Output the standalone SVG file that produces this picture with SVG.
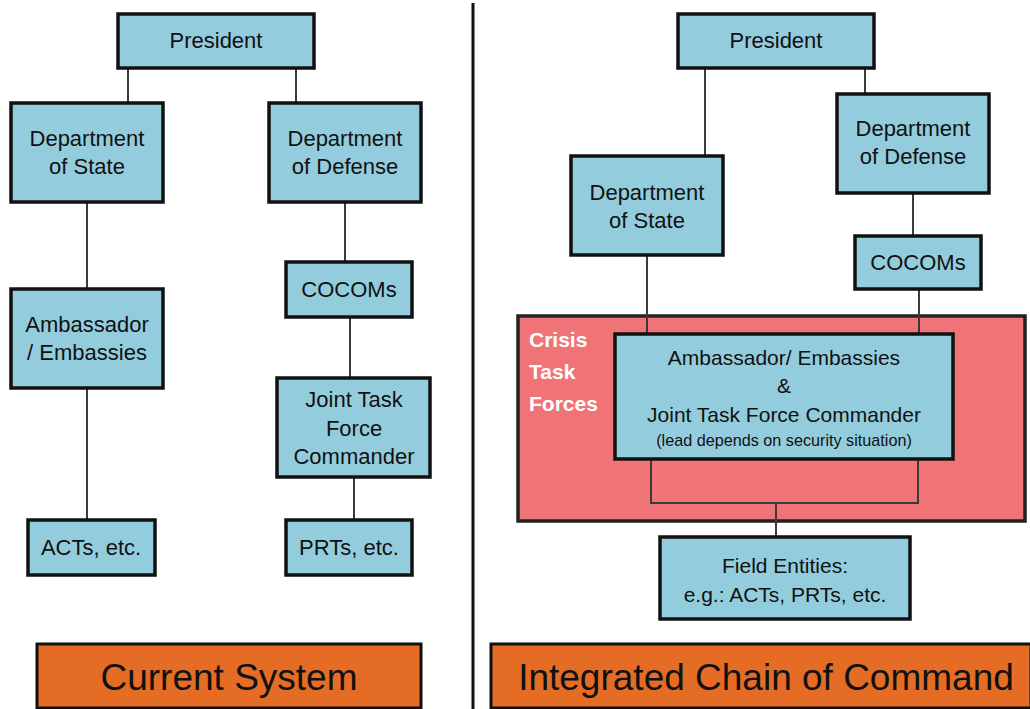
<svg xmlns="http://www.w3.org/2000/svg" width="1030" height="709" viewBox="0 0 1030 709">
<style>
.node{fill:#93CDDD;stroke:#111;stroke-width:3.5}
.t{font-family:"Liberation Sans",Arial,sans-serif;font-size:22px;fill:#111;text-anchor:middle}
.ti{font-size:21px}
.ts{font-size:16.2px}
.c{stroke:#3a3a3a;stroke-width:2;fill:none}
.banner{fill:#E46C25;stroke:#111;stroke-width:3}
.bt{font-family:"Liberation Sans",Arial,sans-serif;font-size:37px;fill:#111;text-anchor:middle}
</style>
<rect width="1030" height="709" fill="#fff"/>
<line x1="473" y1="3" x2="473" y2="709" stroke="#111" stroke-width="3"/>

<g id="crisis-task-forces">
<rect x="518" y="316" width="507" height="205" fill="#F07477" stroke="#222" stroke-width="3.5"/>
<text font-family="'Liberation Sans',Arial,sans-serif" font-size="21" font-weight="bold" fill="#fff"><tspan x="529" y="347">Crisis</tspan><tspan x="529" y="379">Task</tspan><tspan x="529" y="411">Forces</tspan></text>
</g>

<g id="connectors">
<path class="c" d="M128 68V103M296 68V103M87 202V289M87 388V520M345 202V262M350 317V378M354 477V520"/>
<path class="c" d="M705 68V156M865 68V94M647 255V334M913 193V236M919 289V334"/>
<path class="c" d="M651 459V503H918V459M776 503V537"/>
</g>

<g id="l-president"><rect class="node" x="118" y="14" width="196" height="54"/><text class="t" x="216" y="48">President</text></g>
<g id="l-dos"><rect class="node" x="11" y="103" width="152" height="99"/><text class="t"><tspan x="87" y="146">Department</tspan><tspan x="87" y="174">of State</tspan></text></g>
<g id="l-dod"><rect class="node" x="269" y="103" width="152" height="99"/><text class="t"><tspan x="345" y="146">Department</tspan><tspan x="345" y="174">of Defense</tspan></text></g>
<g id="l-ambassador"><rect class="node" x="11" y="289" width="152" height="99"/><text class="t"><tspan x="87" y="332">Ambassador</tspan><tspan x="87" y="360">/ Embassies</tspan></text></g>
<g id="l-cocoms"><rect class="node" x="286" y="262" width="126" height="55"/><text class="t" x="349" y="297">COCOMs</text></g>
<g id="l-jtfc"><rect class="node" x="277" y="378" width="153" height="99"/><text class="t"><tspan x="354" y="407">Joint Task</tspan><tspan x="354" y="436">Force</tspan><tspan x="354" y="464">Commander</tspan></text></g>
<g id="l-acts"><rect class="node" x="28" y="520" width="127" height="55"/><text class="t" x="91" y="555">ACTs, etc.</text></g>
<g id="l-prts"><rect class="node" x="286" y="520" width="126" height="55"/><text class="t" x="349" y="555">PRTs, etc.</text></g>
<g id="current-system"><rect class="banner" x="37" y="644" width="384" height="64"/><text class="bt" x="229" y="690">Current System</text></g>

<g id="r-president"><rect class="node" x="678" y="14" width="196" height="54"/><text class="t" x="776" y="48">President</text></g>
<g id="r-dos"><rect class="node" x="571" y="156" width="152" height="99"/><text class="t"><tspan x="647" y="200">Department</tspan><tspan x="647" y="228">of State</tspan></text></g>
<g id="r-dod"><rect class="node" x="837" y="94" width="152" height="99"/><text class="t"><tspan x="913" y="136">Department</tspan><tspan x="913" y="164">of Defense</tspan></text></g>
<g id="r-cocoms"><rect class="node" x="855" y="236" width="126" height="53"/><text class="t" x="918" y="270">COCOMs</text></g>
<g id="r-combined"><rect class="node" x="615" y="334" width="338" height="125"/><text class="t ti"><tspan x="784" y="365">Ambassador/ Embassies</tspan><tspan x="784" y="393">&amp;</tspan><tspan x="784" y="422">Joint Task Force Commander</tspan></text><text class="t ts" x="784" y="446">(lead depends on security situation)</text></g>
<g id="r-field"><rect class="node" x="660" y="537" width="250" height="82"/><text class="t ti"><tspan x="785" y="573">Field Entities:</tspan><tspan x="785" y="602">e.g.: ACTs, PRTs, etc.</tspan></text></g>
<g id="integrated-chain"><rect class="banner" x="491" y="644" width="540" height="64"/><text class="bt" x="766" y="690">Integrated Chain of Command</text></g>
</svg>
